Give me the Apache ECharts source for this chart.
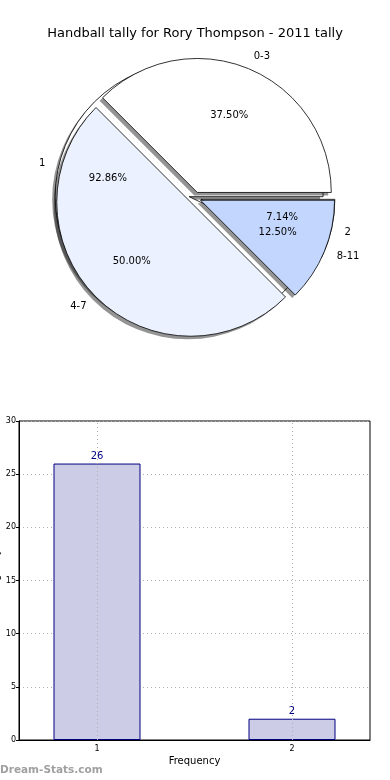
<!DOCTYPE html>
<html>
<head>
<meta charset="utf-8">
<script src="https://cdn.jsdelivr.net/npm/echarts@6/dist/echarts.min.js"></script>
<style>html,body{margin:0;padding:0;background:#fff;}#c{width:390px;height:780px;}</style>
</head>
<body>
<div id="c"></div>
<script>
// Data
var titleText = 'Handball tally for Rory Thompson - 2011 tally';
var tallyCats = ['0-3', '4-7', '8-11'];
var tallyPct = [37.5, 50, 12.5];
var tallyColors = ['#ffffff', '#ebf1fe', '#c3d7fe'];
var freqCats = [1, 2];
var freqCounts = [26, 2];
var freqColors = ['#ffffff', '#ebf1fe'];
var yTickMax = 30, yTickStep = 5;

var FONT = 'DejaVu Sans';
var R = 134, CX = 195, CY = 198, OFF = 6;

function pieData(names, vals, colors, mode) {
  return names.map(function (n, i) {
    var st;
    if (mode === 'clear') st = { color: 'rgba(0,0,0,0)', borderWidth: 0 };
    else if (mode === 'shadow') st = { color: 'rgba(0,0,0,0.42)', borderWidth: 0 };
    else st = { color: colors[i] };
    return { name: String(n), value: vals[i], selected: true, itemStyle: st };
  });
}

function base(z, cx, cy, r) {
  return {
    type: 'pie', center: [cx, cy], radius: [0, r], startAngle: 0, clockwise: false,
    selectedMode: 'multiple', selectedOffset: OFF, avoidLabelOverlap: false, silent: true,
    animation: false, z: z, emphasis: { disabled: true }, labelLine: { show: false }
  };
}

function shadowSeries(names, vals, z) {
  var s = base(z, CX - 3, CY + 3, R);
  s.label = { show: false };
  s.data = pieData(names, vals, null, 'shadow');
  return s;
}

function sectorSeries(names, vals, colors, z) {
  var s = base(z, CX, CY, R);
  s.itemStyle = { borderColor: '#000', borderWidth: 0.8 };
  s.label = { show: true, position: 'outside', formatter: '{b}', fontFamily: FONT, fontSize: 10, color: '#000', distanceToLabelLine: 0 };
  s.labelLine = { show: false, length: R * 0.1, length2: 0 };
  s.data = pieData(names, vals, colors, 'fill');
  return s;
}

function pctSeries(names, vals, z) {
  var s = base(z, CX, CY, R * 1.2);
  s.label = { show: true, position: 'inside', fontFamily: FONT, fontSize: 10, color: '#000',
    formatter: function (p) { return p.percent.toFixed(2) + '%'; } };
  s.data = pieData(names, vals, null, 'clear');
  return s;
}

var chart = echarts.init(document.getElementById('c'), null, { renderer: 'canvas' });
chart.setOption({
  backgroundColor: '#fff',
  animation: false,
  title: {
    text: titleText, left: 'center', top: 22,
    textStyle: { fontFamily: FONT, fontSize: 13, fontWeight: 'normal', color: '#000' }
  },
  graphic: [{
    type: 'text', left: 0, top: 765,
    style: { text: 'Dream-Stats.com', fontFamily: FONT, fontSize: 10.5, fontWeight: 'bold', fill: '#a0a0a0' }
  }],
  grid: { left: 19, right: 20, top: 421, bottom: 40, containLabel: false, outerBoundsMode: 'none',
    show: true, borderColor: '#000', borderWidth: 1, backgroundColor: 'rgba(0,0,0,0)' },
  xAxis: {
    type: 'value', min: 0.6, max: 2.4, interval: 0.2,
    name: 'Frequency', nameLocation: 'middle', nameGap: 16, nameMoveOverlap: false,
    nameTextStyle: { fontFamily: FONT, fontSize: 10, color: '#000' },
    axisLine: { show: true, lineStyle: { color: '#000' } },
    axisTick: { show: false },
    splitLine: { show: false },
    axisLabel: { fontFamily: FONT, fontSize: 8, color: '#000', margin: 5,
      formatter: function (v) { return Math.abs(v - Math.round(v)) < 1e-6 ? String(Math.round(v)) : ''; } }
  },
  yAxis: {
    type: 'value', min: 0, max: yTickMax, interval: yTickStep,
    name: 'Scoring Tally', nameLocation: 'middle', nameGap: 18, nameRotate: 90, nameMoveOverlap: false,
    nameTextStyle: { fontFamily: FONT, fontSize: 10, color: '#000' },
    axisLine: { show: true, lineStyle: { color: '#000' } },
    axisTick: { show: true, length: 3, lineStyle: { color: '#000' } },
    splitLine: { show: true, lineStyle: { color: '#b0b0b0', type: [1, 3], width: 1 } },
    axisLabel: { fontFamily: FONT, fontSize: 8, color: '#000', margin: 3 }
  },
  series: [
    shadowSeries(freqCats, freqCounts, 1),
    sectorSeries(freqCats, freqCounts, freqColors, 2),
    shadowSeries(tallyCats, tallyPct, 3),
    sectorSeries(tallyCats, tallyPct, tallyColors, 4),
    pctSeries(freqCats, freqCounts, 6),
    pctSeries(tallyCats, tallyPct, 6),
    {
      type: 'bar', barWidth: 87, silent: true, animation: false,
      data: freqCats.map(function (c, i) { return [c, freqCounts[i]]; }),
      itemStyle: { color: '#ccccE6', borderColor: '#000080', borderWidth: 1 },
      label: { show: true, position: 'top', distance: 2, fontFamily: FONT, fontSize: 10, color: '#000080' },
      markLine: {
        silent: true, symbol: 'none', animation: false,
        label: { show: false },
        lineStyle: { color: '#b0b0b0', type: [1, 3], width: 1 },
        data: freqCats.map(function (c) { return { xAxis: c }; })
      }
    }
  ]
});
</script>
</body>
</html>
